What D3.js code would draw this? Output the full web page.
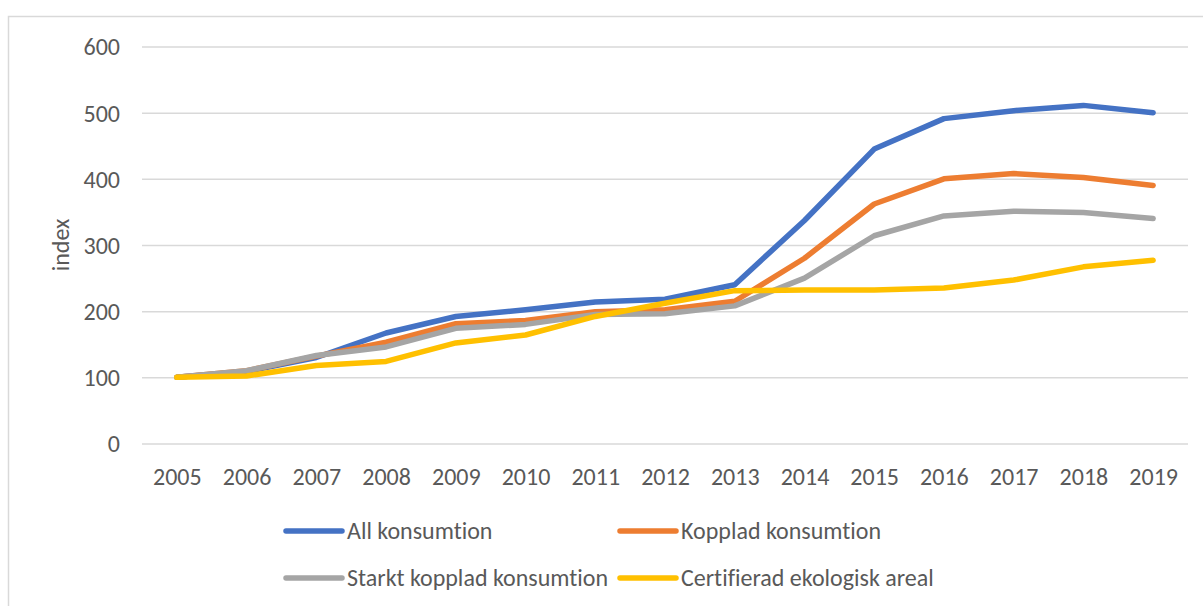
<!DOCTYPE html>
<html>
<head>
<meta charset="utf-8">
<script src="https://cdn.jsdelivr.net/npm/d3@7"></script>
<style>
    body { margin: 0; background: #fff; }
    svg { display: block; }
    .lbl { font-family: Carlito, Lato, "Open Sans", sans-serif; fill: #595959;
        font-variant-ligatures: none; font-feature-settings: "liga" 0; }
</style>
</head>
<body>
<div id="chart"></div>
<script>
const years = ["2005", "2006", "2007", "2008", "2009", "2010", "2011", "2012",
    "2013", "2014", "2015", "2016", "2017", "2018", "2019"];

const allKonsumtion = [100, 109, 130, 167, 192, 202, 214, 218, 240, 337, 445, 491, 503, 511, 500];
const koppladKonsumtion = [100, 110, 132, 153, 181, 186, 199, 202, 215, 280, 362, 400, 408, 402, 390];
const starktKoppladKonsumtion = [100, 110, 133, 146, 174, 180, 195, 196, 208, 250, 314, 344, 351, 349, 340];
const ekologiskAreal = [100, 102, 118, 124, 152, 164, 192, 212, 231, 232, 232, 235, 247, 267, 277];

const yTicks = [0, 100, 200, 300, 400, 500, 600];

const seriesNames = ["All konsumtion", "Kopplad konsumtion",
    "Starkt kopplad konsumtion", "Certifierad ekologisk areal"];
const seriesColors = ["#4472C4", "#ED7D31", "#A5A5A5", "#FFC000"];

const buildChart = (chartId) => {
    const width = 1203,
        height = 606,
        left = 142,
        right = 1188,
        top = 46.5,
        bottom = 443.5,
        fontSize = 24;

    const series = [allKonsumtion, koppladKonsumtion, starktKoppladKonsumtion, ekologiskAreal]
        .map(function(values, i) {
            return {name: seriesNames[i], color: seriesColors[i], values: values};
        });

    const x = d3.scalePoint()
        .domain(years)
        .range([left, right])
        .padding(0.5);

    const y = d3.scaleLinear()
        .domain([0, 600])
        .range([bottom, top]);

    const svg = d3.select(chartId)
        .append("svg")
        .attr("width", width)
        .attr("height", height);

    // chart frame (cropped at right and bottom)
    svg.append("rect")
        .attr("x", 8.5)
        .attr("y", 16.5)
        .attr("width", width)
        .attr("height", height)
        .attr("fill", "none")
        .attr("stroke", "#d9d9d9")
        .attr("stroke-width", 1.5);

    const yAxis = svg.append("g")
        .attr("transform", "translate(" + left + ",0)")
        .call(d3.axisLeft(y)
            .tickValues(yTicks)
            .tickSize(-(right - left))
            .tickPadding(22));

    yAxis.select(".domain").remove();
    yAxis.selectAll(".tick line")
        .attr("stroke", "#d9d9d9")
        .attr("stroke-width", 1.5);
    yAxis.selectAll(".tick text")
        .attr("class", "lbl")
        .attr("font-size", fontSize)
        .attr("dy", "0.35em");

    const xAxis = svg.append("g")
        .attr("transform", "translate(0," + bottom + ")")
        .call(d3.axisBottom(x).tickSize(0).tickPadding(0));

    xAxis.select(".domain").remove();
    xAxis.selectAll(".tick text")
        .attr("class", "lbl")
        .attr("font-size", fontSize)
        .attr("y", 41)
        .attr("dy", 0);

    svg.append("text")
        .attr("class", "lbl")
        .attr("font-size", fontSize)
        .attr("text-anchor", "middle")
        .attr("transform", "translate(69,245)rotate(-90)")
        .text("index");

    const line = d3.line()
        .x(function(d, i) { return x(years[i]); })
        .y(function(d) { return y(d); });

    svg.append("g")
        .selectAll("path")
        .data(series)
        .enter().append("path")
        .attr("d", function(d) { return line(d.values); })
        .attr("fill", "none")
        .attr("stroke", function(d) { return d.color; })
        .attr("stroke-width", 5.5)
        .attr("stroke-linejoin", "round")
        .attr("stroke-linecap", "round");

    // legend, two per row
    const legendX = [286, 620],
        legendY = [531, 578];

    const legend = svg.append("g")
        .selectAll("g")
        .data(series)
        .enter().append("g")
        .attr("transform", function(d, i) {
            return "translate(" + legendX[i % 2] + "," + legendY[Math.floor(i / 2)] + ")";
        });

    legend.append("line")
        .attr("x1", 0)
        .attr("x2", 56)
        .attr("stroke", function(d) { return d.color; })
        .attr("stroke-width", 5.5)
        .attr("stroke-linecap", "round");

    legend.append("text")
        .attr("class", "lbl")
        .attr("font-size", fontSize)
        .attr("x", 61)
        .attr("dy", "0.35em")
        .text(function(d) { return d.name; });

    return svg;
}

buildChart("#chart");
</script>
</body>
</html>
